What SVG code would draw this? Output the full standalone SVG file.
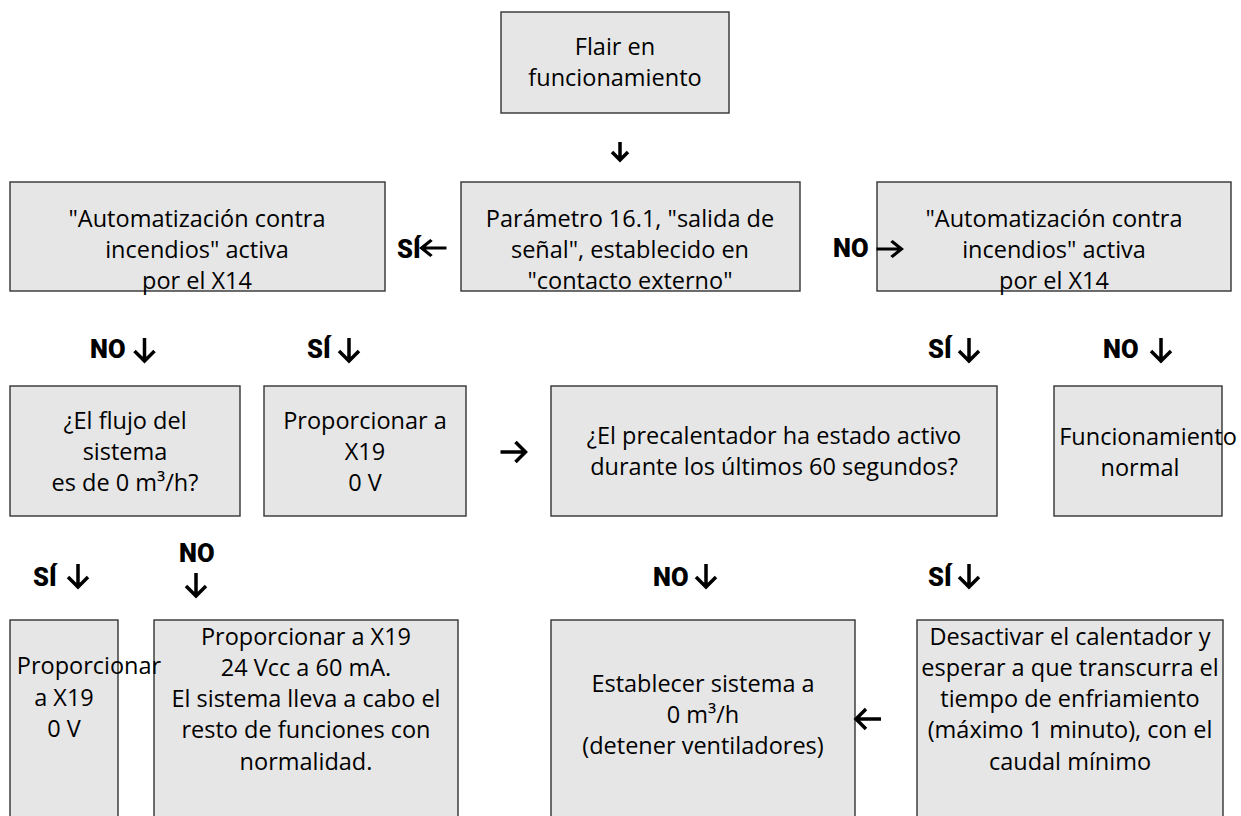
<svg xmlns="http://www.w3.org/2000/svg" width="1241" height="816" viewBox="0 0 1241 816">
<style>
.box{fill:#e6e6e6;stroke:#333;stroke-width:1.4}
.t{font-family:"Open Sans","Noto Sans",sans-serif;font-size:23.5px;fill:#000;text-anchor:middle}
.lb{font-family:Roboto,"Liberation Sans",sans-serif;font-weight:900;font-size:25.5px;fill:#000}
.ar{fill:none;stroke:#000;stroke-width:3.5;stroke-linejoin:miter}
</style>
<defs>
<path id="ad" class="ar" d="M0,-12V11M-10,1L0,11L10,1"/>
<path id="ar" class="ar" d="M-13,0H12M2,-10L12,0L2,10"/>
</defs>
<rect width="1241" height="816" fill="#fff"/>

<g id="n-flair"><rect class="box" x="501" y="12" width="228" height="101"/>
<text class="t" x="615" y="55">Flair en</text><text class="t" x="615" y="86">funcionamiento</text></g>

<g id="n-auto-left"><rect class="box" x="10" y="182" width="375" height="109"/>
<text class="t" x="197" y="227">"Automatización contra</text><text class="t" x="197" y="258">incendios" activa</text><text class="t" x="197" y="289">por el X14</text></g>

<g id="n-param"><rect class="box" x="461" y="182" width="339" height="109"/>
<text class="t" x="630" y="227">Parámetro 16.1, "salida de</text><text class="t" x="630" y="258">señal", establecido en</text><text class="t" x="630" y="289">"contacto externo"</text></g>

<g id="n-auto-right"><rect class="box" x="877" y="182" width="354" height="109"/>
<text class="t" x="1054" y="227">"Automatización contra</text><text class="t" x="1054" y="258">incendios" activa</text><text class="t" x="1054" y="289">por el X14</text></g>

<g id="n-flujo"><rect class="box" x="10" y="386" width="230" height="130"/>
<text class="t" x="125" y="429">¿El flujo del</text><text class="t" x="125" y="460">sistema</text><text class="t" x="125" y="491">es de 0 m³/h?</text></g>

<g id="n-prop1"><rect class="box" x="264" y="386" width="202" height="130"/>
<text class="t" x="365" y="429">Proporcionar a</text><text class="t" x="365" y="460">X19</text><text class="t" x="365" y="491">0 V</text></g>

<g id="n-precal"><rect class="box" x="551" y="386" width="446" height="130"/>
<text class="t" x="774" y="444">¿El precalentador ha estado activo</text><text class="t" x="774" y="475">durante los últimos 60 segundos?</text></g>

<g id="n-normal"><rect class="box" x="1054" y="386" width="168" height="130"/>
<text class="t" x="1148" y="445">Funcionamiento</text><text class="t" x="1140" y="476">normal</text></g>

<g id="n-prop3"><rect class="box" x="154" y="620" width="304" height="220"/>
<text class="t" x="306" y="645">Proporcionar a X19</text><text class="t" x="306" y="676">24 Vcc a 60 mA.</text><text class="t" x="306" y="707">El sistema lleva a cabo el</text><text class="t" x="306" y="738">resto de funciones con</text><text class="t" x="306" y="770">normalidad.</text></g>

<g id="n-prop2"><rect class="box" x="10" y="620" width="108" height="220"/>
<text class="t" x="89" y="674">Proporcionar</text><text class="t" x="64" y="706">a X19</text><text class="t" x="64" y="737">0 V</text></g>

<g id="n-establecer"><rect class="box" x="551" y="620" width="304" height="220"/>
<text class="t" x="703" y="692">Establecer sistema a</text><text class="t" x="703" y="723">0 m³/h</text><text class="t" x="703" y="754">(detener ventiladores)</text></g>

<g id="n-desactivar"><rect class="box" x="917" y="620" width="306" height="220"/>
<text class="t" x="1070" y="645">Desactivar el calentador y</text><text class="t" x="1070" y="676">esperar a que transcurra el</text><text class="t" x="1070" y="707">tiempo de enfriamiento</text><text class="t" x="1070" y="738">(máximo 1 minuto), con el</text><text class="t" x="1070" y="770">caudal mínimo</text></g>

<g id="connectors">
<path class="ar" d="M620,142V160M612,152L620,160L628,152"/>
<text class="lb" x="397" y="258">SÍ</text><use href="#ar" transform="translate(433.5,248) rotate(180) scale(1,0.8)"/>
<text class="lb" x="833" y="257">NO</text><use href="#ar" transform="translate(889.5,249) scale(1,0.8)"/>
<text class="lb" x="90" y="358">NO</text><use href="#ad" transform="translate(144.5,350)"/>
<text class="lb" x="307" y="358">SÍ</text><use href="#ad" transform="translate(349,350)"/>
<text class="lb" x="928" y="358">SÍ</text><use href="#ad" transform="translate(969,350)"/>
<text class="lb" x="1103" y="358">NO</text><use href="#ad" transform="translate(1161,350)"/>
<use href="#ar" transform="translate(513.5,452)"/>
<text class="lb" x="33" y="586">SÍ</text><use href="#ad" transform="translate(78,576)"/>
<text class="lb" x="179" y="562">NO</text><use href="#ad" transform="translate(196,585)"/>
<text class="lb" x="653" y="586">NO</text><use href="#ad" transform="translate(706,576)"/>
<text class="lb" x="928" y="586">SÍ</text><use href="#ad" transform="translate(969,576)"/>
<use href="#ar" transform="translate(868,719) rotate(180)"/>
</g>
</svg>
